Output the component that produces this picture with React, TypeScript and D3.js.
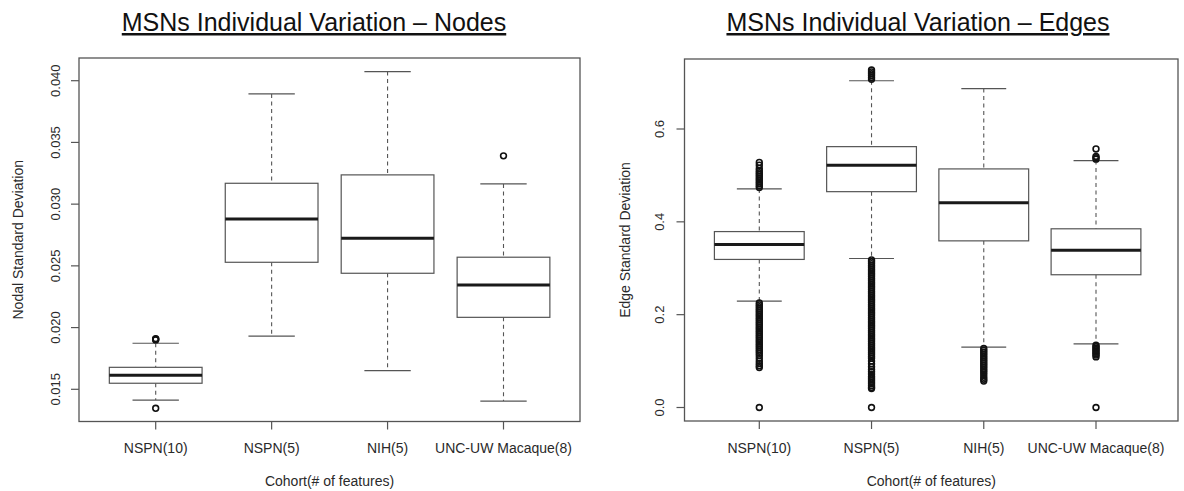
import React from "react";
import * as d3 from "d3";

const CATEGORIES = ["NSPN(10)", "NSPN(5)", "NIH(5)", "UNC-UW Macaque(8)"];

// Nodes panel (nodal standard deviation)
const NODE_LOW = [0.01413, 0.0193, 0.01651, 0.01405];
const NODE_Q1 = [0.01549, 0.02529, 0.0244, 0.02083];
const NODE_MED = [0.01613, 0.0288, 0.02724, 0.02345];
const NODE_Q3 = [0.01678, 0.03169, 0.03237, 0.0257];
const NODE_HIGH = [0.01873, 0.03893, 0.04074, 0.03164];
const NODE_OUTLIERS = [
  [0.0190, 0.01905, 0.0191, 0.01346],
  [],
  [],
  [0.03391],
];
const NODE_TICKS = [0.015, 0.02, 0.025, 0.03, 0.035, 0.04];

// Edges panel (edge standard deviation)
const EDGE_LOW = [0.229, 0.321, 0.13, 0.137];
const EDGE_Q1 = [0.319, 0.465, 0.359, 0.286];
const EDGE_MED = [0.351, 0.522, 0.441, 0.339];
const EDGE_Q3 = [0.379, 0.562, 0.514, 0.385];
const EDGE_HIGH = [0.471, 0.704, 0.687, 0.532];
const EDGE_OUTLIERS = [
  [
    0.474, 0.478, 0.482, 0.486, 0.49, 0.494, 0.498, 0.502, 0.506, 0.51, 0.515, 0.522, 0.528,
    0.225, 0.221, 0.217, 0.213, 0.209, 0.205, 0.201, 0.197, 0.193, 0.189, 0.185, 0.181, 0.177,
    0.173, 0.169, 0.165, 0.161, 0.157, 0.153, 0.149, 0.145, 0.141, 0.137, 0.133, 0.129, 0.125,
    0.121, 0.117, 0.112, 0.106, 0.1, 0.095, 0.09, 0.086, 0.0,
  ],
  [
    0.707, 0.711, 0.715, 0.719, 0.723, 0.727,
    0.318, 0.314, 0.31, 0.306, 0.302, 0.298, 0.294, 0.29, 0.286, 0.282, 0.278, 0.274, 0.27,
    0.266, 0.262, 0.258, 0.254, 0.25, 0.246, 0.242, 0.238, 0.234, 0.23, 0.226, 0.222, 0.218,
    0.214, 0.21, 0.206, 0.202, 0.198, 0.194, 0.19, 0.186, 0.182, 0.178, 0.174, 0.17, 0.166,
    0.162, 0.158, 0.154, 0.15, 0.146, 0.142, 0.138, 0.134, 0.13, 0.126, 0.122, 0.118, 0.114,
    0.11, 0.106, 0.1, 0.094, 0.088, 0.082, 0.077, 0.072, 0.067, 0.063, 0.059, 0.055, 0.051,
    0.047, 0.043, 0.041, 0.0,
  ],
  [
    0.127, 0.123, 0.119, 0.115, 0.111, 0.107, 0.103, 0.099, 0.095, 0.091, 0.087, 0.083,
    0.079, 0.075, 0.07, 0.065, 0.061, 0.057,
  ],
  [
    0.535, 0.538, 0.541, 0.557,
    0.134, 0.131, 0.128, 0.125, 0.122, 0.119, 0.116, 0.113, 0.109, 0.0,
  ],
];
const EDGE_TICKS = [0.0, 0.2, 0.4, 0.6];

type PanelProps = {
  title: string;
  titleX: number;
  yLabel: string;
  yLabelX: number;
  frame: { x0: number; x1: number; y0: number; y1: number };
  xRange: [number, number];
  yDomain: [number, number];
  yRange: [number, number];
  yTickLabelX: number;
  low: number[];
  q1: number[];
  med: number[];
  q3: number[];
  high: number[];
  outliers: number[][];
  ticks: number[];
  fmt: (v: number) => string;
};

const LINE = "#555";
const TEXT = "#2a2a2a";
const FONT = "'Liberation Sans', Arial, Helvetica, sans-serif";

function Panel(p: PanelProps) {
  const x = d3.scaleLinear().domain([1, 4]).range(p.xRange);
  const y = d3.scaleLinear().domain(p.yDomain).range(p.yRange);
  const unit = x(2) - x(1);
  const boxHalf = 0.4 * unit;
  const capHalf = 0.2 * unit;
  const { x0, x1, y0, y1 } = p.frame;
  const cy = (y0 + y1) / 2;
  const cx = (x0 + x1) / 2;
  return (
    <g>
      <text
        x={p.titleX}
        y={31}
        textAnchor="middle"
        fontSize={25}
        fill="#111"
        style={{ textDecoration: "underline" }}
        fontFamily={FONT}
      >
        {p.title}
      </text>
      <rect x={x0} y={y0} width={x1 - x0} height={y1 - y0} fill="none" stroke={LINE} strokeWidth={1.3} />
      {/* y axis */}
      {p.ticks.map((t) => (
        <g key={"yt" + t}>
          <line x1={x0} x2={x0 - 8} y1={y(t)} y2={y(t)} stroke={LINE} strokeWidth={1.2} />
          <text
            transform={`translate(${p.yTickLabelX},${y(t)}) rotate(-90)`}
            textAnchor="middle"
            fontSize={13}
            fill={TEXT}
            fontFamily={FONT}
          >
            {p.fmt(t)}
          </text>
        </g>
      ))}
      <text
        transform={`translate(${p.yLabelX},${cy}) rotate(-90)`}
        textAnchor="middle"
        fontSize={14}
        fill={TEXT}
        fontFamily={FONT}
      >
        {p.yLabel}
      </text>
      {/* x axis */}
      {CATEGORIES.map((c, i) => (
        <g key={"xt" + c}>
          <line x1={x(i + 1)} x2={x(i + 1)} y1={y1} y2={y1 + 8} stroke={LINE} strokeWidth={1.2} />
          <text x={x(i + 1)} y={453} textAnchor="middle" fontSize={14} fill={TEXT} fontFamily={FONT}>
            {c}
          </text>
        </g>
      ))}
      <text x={cx} y={486} textAnchor="middle" fontSize={14} fill={TEXT} fontFamily={FONT}>
        Cohort(# of features)
      </text>
      {/* boxes */}
      {CATEGORIES.map((c, i) => {
        const xc = x(i + 1);
        return (
          <g key={"box" + c}>
            <line x1={xc} x2={xc} y1={y(p.high[i])} y2={y(p.q3[i])} stroke={LINE} strokeWidth={1.1} strokeDasharray="4,3.5" />
            <line x1={xc} x2={xc} y1={y(p.q1[i])} y2={y(p.low[i])} stroke={LINE} strokeWidth={1.1} strokeDasharray="4,3.5" />
            <line x1={xc - capHalf} x2={xc + capHalf} y1={y(p.high[i])} y2={y(p.high[i])} stroke={LINE} strokeWidth={1.2} />
            <line x1={xc - capHalf} x2={xc + capHalf} y1={y(p.low[i])} y2={y(p.low[i])} stroke={LINE} strokeWidth={1.2} />
            <rect
              x={xc - boxHalf}
              y={y(p.q3[i])}
              width={2 * boxHalf}
              height={y(p.q1[i]) - y(p.q3[i])}
              fill="white"
              stroke={LINE}
              strokeWidth={1.2}
            />
            <line x1={xc - boxHalf} x2={xc + boxHalf} y1={y(p.med[i])} y2={y(p.med[i])} stroke="#1a1a1a" strokeWidth={3} />
            {p.outliers[i].map((v, k) => (
              <circle key={k} cx={xc} cy={y(v)} r={2.9} fill="none" stroke="#111" strokeWidth={1.6} />
            ))}
          </g>
        );
      })}
    </g>
  );
}

export default function App() {
  return (
    <svg
      width={1184}
      height={491}
      style={{ position: "absolute", left: 0, top: 0, background: "white" }}
    >
      <rect width={1184} height={491} fill="white" />
      <Panel
        title="MSNs Individual Variation – Nodes"
        titleX={314}
        yLabel="Nodal Standard Deviation"
        yLabelX={23}
        frame={{ x0: 79, x1: 580, y0: 58, y1: 421.5 }}
        xRange={[155.7, 503.5]}
        yDomain={[0.015, 0.04]}
        yRange={[389.3, 80.7]}
        yTickLabelX={60}
        low={NODE_LOW}
        q1={NODE_Q1}
        med={NODE_MED}
        q3={NODE_Q3}
        high={NODE_HIGH}
        outliers={NODE_OUTLIERS}
        ticks={NODE_TICKS}
        fmt={d3.format(".3f")}
      />
      <Panel
        title="MSNs Individual Variation – Edges"
        titleX={918}
        yLabel="Edge Standard Deviation"
        yLabelX={630}
        frame={{ x0: 684.5, x1: 1178, y0: 59, y1: 421 }}
        xRange={[759.3, 1096]}
        yDomain={[0, 0.6]}
        yRange={[407.5, 129]}
        yTickLabelX={663.5}
        low={EDGE_LOW}
        q1={EDGE_Q1}
        med={EDGE_MED}
        q3={EDGE_Q3}
        high={EDGE_HIGH}
        outliers={EDGE_OUTLIERS}
        ticks={EDGE_TICKS}
        fmt={d3.format(".1f")}
      />
    </svg>
  );
}
